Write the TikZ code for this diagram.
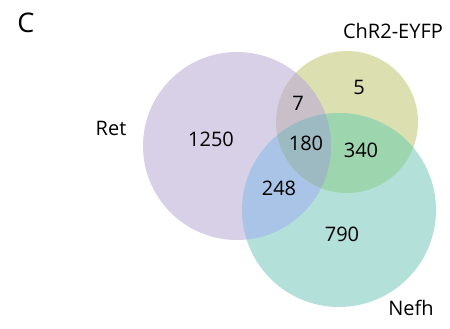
\documentclass[tikz,border=0pt]{standalone}
\usepackage{fontspec}
\setmainfont{Open Sans}
\definecolor{retc}{HTML}{D8D0E6}
\definecolor{chrc}{HTML}{DCE0B0}
\definecolor{nefc}{HTML}{B4E0DA}
\definecolor{rcc}{HTML}{C8BFC9}
\definecolor{rnc}{HTML}{A9C4E6}
\definecolor{cnc}{HTML}{9CD5AE}
\definecolor{allc}{HTML}{9DB9C1}
\begin{document}
\begin{tikzpicture}[x=1pt, y=-1pt, num/.style={font=\fontsize{20}{24}\selectfont, text=black}, lab/.style={font=\fontsize{20}{24}\selectfont, text=black}]
        \useasboundingbox (0,0) rectangle (450,329);
        % circles
        \coordinate (ret) at (237,146);
        \coordinate (chr) at (347,122);
        \coordinate (nef) at (339,210);
        \fill[retc] (ret) circle (94);
        \fill[chrc] (chr) circle (71);
        \fill[nefc] (nef) circle (97);
        % overlaps
        \begin{scope}
            \clip (ret) circle (94);
            \fill[rcc] (chr) circle (71);
            \fill[rnc] (nef) circle (97);
        \end{scope}
        \begin{scope}
            \clip (chr) circle (71);
            \fill[cnc] (nef) circle (97);
        \end{scope}
        \begin{scope}
            \clip (ret) circle (94);
            \clip (chr) circle (71);
            \fill[allc] (nef) circle (97);
        \end{scope}

        \node[font=\fontsize{27}{32}\selectfont] (c) at (26,23) {C};
        \node[lab] (l1) at (111,128) {Ret};
        \node[lab] (l2) at (393,31) {ChR2-EYFP};
        \node[lab] (l3) at (411,308) {Nefh};

        \node[num] (n1) at (211,139) {1250};
        \node[num] (n2) at (298,103) {7};
        \node[num] (n3) at (359,87) {5};
        \node[num] (n4) at (306,143) {180};
        \node[num] (n5) at (361,150) {340};
        \node[num] (n6) at (279,188) {248};
        \node[num] (n7) at (342,234) {790};
    \end{tikzpicture}
\end{document}
